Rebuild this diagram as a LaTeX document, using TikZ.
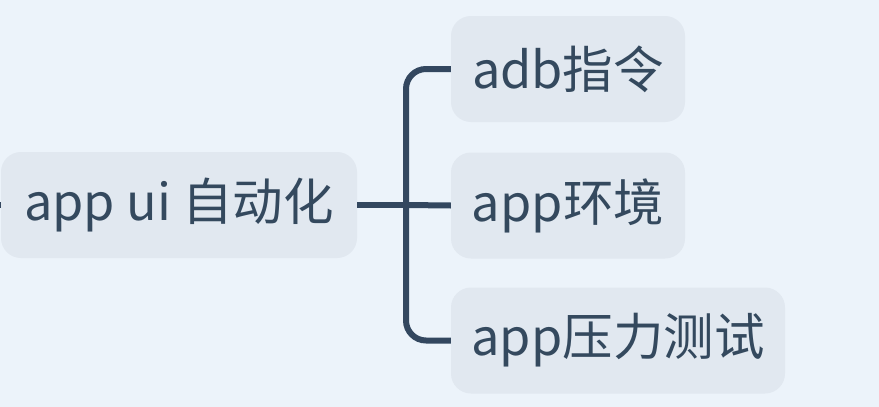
\documentclass[tikz,border=0pt]{standalone}
\usepackage{fontspec}
\setmainfont{Noto Sans CJK SC}
\definecolor{bgc}{HTML}{ECF3FA}
\definecolor{nodefill}{HTML}{E1E8F0}
\definecolor{linec}{HTML}{33475F}
\definecolor{textc}{HTML}{34495E}
\begin{document}
\begin{tikzpicture}[x=1pt,y=-1pt,
  topic/.style={rectangle, rounded corners=20pt, fill=nodefill, inner sep=0pt,
    minimum height=106pt, text=textc, font=\fontsize{50.5}{56}\selectfont},
  conn/.style={draw=linec, line width=6pt}]
\fill[bgc] (0,0) rectangle (879,407);
\useasboundingbox (0,0) rectangle (879,407);
\coordinate (in) at (-10,205);
\node[topic, minimum width=356pt] (root) at (179,205) {app ui 自动化};
\node[topic, minimum width=234pt] (c1) at (568,69) {adb指令};
\node[topic, minimum width=234pt] (c2) at (568,205.5) {app环境};
\node[topic, minimum width=334pt] (c3) at (618,340.5) {app压力测试};
\coordinate (bx) at (406,205);
\draw[conn] (in) -- (root.west);
\draw[conn] (root.east) -- (bx);
\draw[conn] (bx) -- (c2.west);
\draw[conn, rounded corners=20pt] (c1.west) -| (bx) |- (c3.west);
\end{tikzpicture}
\end{document}
